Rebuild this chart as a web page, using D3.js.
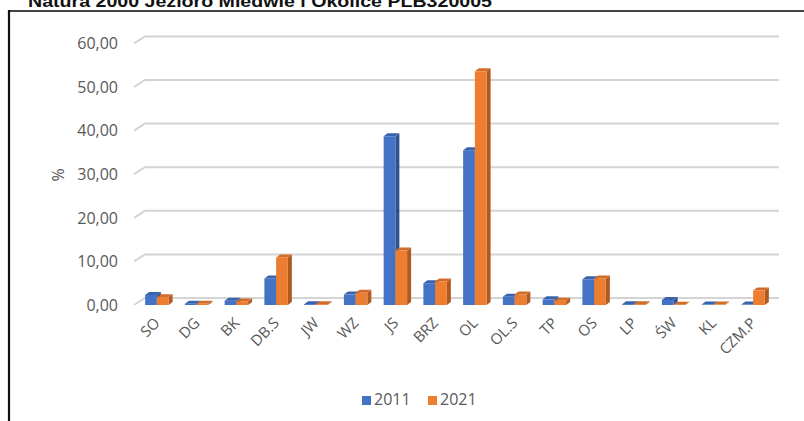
<!DOCTYPE html>
<html><head><meta charset="utf-8">
<script src="https://cdn.jsdelivr.net/npm/d3@7"></script>
<style>html,body{margin:0;padding:0;background:#fff;}svg{display:block;}</style>
</head><body>
<svg id="c" width="804" height="421"></svg>
<script>
const categories = ["SO","DG","BK","DB.S","JW","WZ","JS","BRZ","OL","OL.S","TP","OS","LP","ŚW","KL","CZM.P"];
const series = ["2011","2021"];
const values2011 = [2.3,0.3,1.0,6.1,0.2,2.4,38.7,5.0,35.5,1.9,1.3,5.9,0.2,1.15,0.1,0.1];
const values2021 = [1.8,0.3,0.8,10.9,0.2,2.8,12.5,5.4,53.6,2.4,1.0,6.1,0.2,0.05,0.1,3.3];
const yTicks = [0,10,20,30,40,50,60];
const title = "Natura 2000 Jezioro Miedwie i Okolice PLB320005";
const yLabel = "%";

const colors = {"2011":{front:"#4472C4",side:"#2F528F",top:"#3A63AD"},
                "2021":{front:"#ED7D31",side:"#AE5A21",top:"#D36C27"}};
const svg = d3.select("#c");
const font = "'Open Sans', sans-serif";

// title (clipped at top, as in the reference)
svg.append("text").attr("x",28).attr("y",7).attr("font-family","Liberation Sans, Arial, sans-serif")
  .attr("font-weight","bold").attr("font-size",16).attr("fill","#111")
  .attr("textLength",464).attr("lengthAdjust","spacingAndGlyphs").text(title);

// frame
svg.append("line").attr("x1",9).attr("x2",804).attr("y1",11).attr("y2",11).attr("stroke","#444").attr("stroke-width",2);
svg.append("line").attr("x1",9).attr("x2",9).attr("y1",10).attr("y2",421).attr("stroke","#111").attr("stroke-width",2.2);

const x = d3.scaleBand().domain(categories).range([137,773]).paddingInner(0.41).paddingOuter(0.205);
const xs = d3.scaleBand().domain(series).range([0,x.bandwidth()]);
const y = d3.scaleLinear().domain([0,60]).range([305,43.4]);
const dX = 11, dY = 7;   // wall depth
const bx = 4, by = 3;    // bar depth

// gridlines (back wall + diagonal)
const g = svg.append("g");
yTicks.forEach(t => {
  g.append("path").attr("d",`M${x.range()[0]-3},${y(t)} L${x.range()[0]-3+dX},${y(t)-dY} L779,${y(t)-dY}`)
    .attr("fill","none").attr("stroke","#d4d4d4").attr("stroke-width",2);
});

// y axis labels
svg.append("g").selectAll("text").data(yTicks).join("text")
  .attr("x",118).attr("y",d=>y(d)+1.5).attr("text-anchor","end").attr("dominant-baseline","middle")
  .attr("font-family",font).attr("font-size",16).attr("fill","#595959")
  .text(d=>d3.format(".2f")(d).replace(".",","));

svg.append("text").attr("transform","translate(60,175) rotate(-90)").attr("text-anchor","middle")
  .attr("dominant-baseline","middle").attr("font-family",font).attr("font-size",16).attr("fill","#595959").text(yLabel);

// bars
const data = [];
categories.forEach((c,i)=>{
  data.push({c, s:"2011", v:values2011[i]});
  data.push({c, s:"2021", v:values2021[i]});
});
const bars = svg.append("g");
data.forEach(d=>{
  const x0 = x(d.c)+xs(d.s), w = xs.bandwidth(), yt = y(d.v), yb = y(0);
  const col = colors[d.s];
  bars.append("polygon").attr("points",`${x0+w},${yt} ${x0+w+bx},${yt-by} ${x0+w+bx},${yb-by} ${x0+w},${yb}`).attr("fill",col.side);
  bars.append("polygon").attr("points",`${x0},${yt} ${x0+bx},${yt-by} ${x0+w+bx},${yt-by} ${x0+w},${yt}`).attr("fill",col.top);
  bars.append("rect").attr("x",x0).attr("y",yt).attr("width",w).attr("height",yb-yt).attr("fill",col.front);
});

// x labels
svg.append("g").selectAll("text").data(categories).join("text")
  .attr("transform",d=>`translate(${x(d)+x.bandwidth()/2+4},${324}) rotate(-45)`)
  .attr("text-anchor","end").attr("font-family",font).attr("font-size",15).attr("fill","#595959")
  .text(d=>d);

// legend
const leg = svg.append("g");
const legX = {"2011":362,"2021":428};
series.forEach(s=>{
  leg.append("rect").attr("x",legX[s]).attr("y",396).attr("width",9).attr("height",9).attr("fill",colors[s].front);
  leg.append("text").attr("x",legX[s]+12).attr("y",401).attr("dominant-baseline","middle")
    .attr("font-family",font).attr("font-size",16).attr("fill","#595959").text(s);
});
</script>
</body></html>
